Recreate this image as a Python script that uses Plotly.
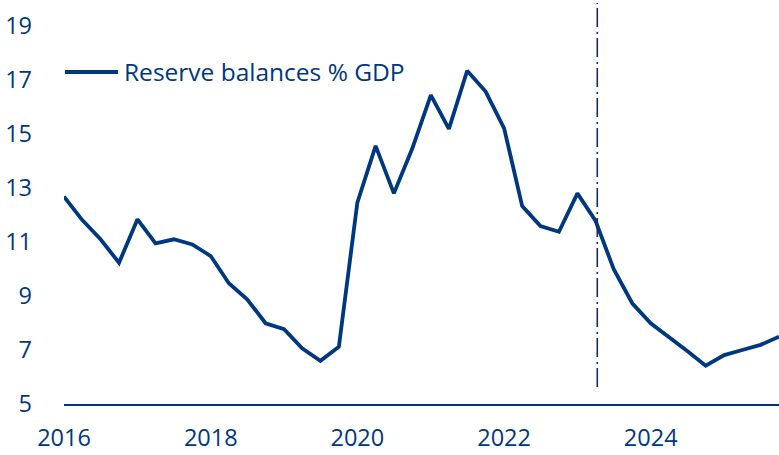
import pandas as pd
import plotly.graph_objects as go

# Quarterly observations, 2016 Q1 .. 2025 Q4
quarters = pd.date_range(start="2016-01-01", periods=40, freq="QS").strftime("%Y-%m-%d").tolist()
reserve_balances = [
    12.68, 11.81, 11.10, 10.23, 11.84, 10.95, 11.10, 10.91,
    10.48, 9.47, 8.88, 7.99, 7.77, 7.06, 6.60, 7.12,
    12.46, 14.56, 12.80, 14.47, 16.44, 15.19, 17.34, 16.57,
    15.21, 12.33, 11.59, 11.38, 12.80, 11.79, 9.99, 8.73,
    7.99, 7.49, 6.96, 6.42, 6.81, 7.00, 7.19, 7.49,
]
series_name = "Reserve balances % GDP"
forecast_start = "2023-04-10"
y_ticks = [5, 7, 9, 11, 13, 15, 17, 19]

BLUE = "#003781"
FONT = "Open Sans"

fig = go.Figure()
fig.add_trace(go.Scatter(
    x=quarters, y=reserve_balances, mode="lines", name=series_name,
    line=dict(color=BLUE, width=3.8), showlegend=False,
))

# forecast separator
fig.add_shape(type="line", xref="x", yref="y", x0=forecast_start, x1=forecast_start,
              y0=5.63, y1=19.85, line=dict(color="#1b2d5e", width=1.6, dash="19px,4px,2px,5px"))

# legend key
fig.add_shape(type="line", xref="paper", yref="paper", x0=(65-64)/715, x1=(118-64)/715,
              y0=(404-72)/401, y1=(404-72)/401, line=dict(color=BLUE, width=3.8))
fig.add_annotation(xref="paper", yref="paper", x=(122-64)/715, y=(404-71)/401,
                   text=series_name, showarrow=False, xanchor="left", yanchor="middle",
                   font=dict(family=FONT, size=24.5, color=BLUE))

fig.update_layout(
    width=779, height=455,
    margin=dict(l=64, r=0, t=3, b=51),
    paper_bgcolor="white", plot_bgcolor="white",
    font=dict(family=FONT, size=23.5, color=BLUE),
    hovermode=False,
    xaxis=dict(
        type="date", range=["2016-01-01", "2025-10-01"],
        tick0="2016-01-01", dtick="M24", tickformat="%Y",
        showgrid=False, zeroline=False, showline=True, linecolor=BLUE, linewidth=2,
        ticks="", ticklabelstandoff=12,
        tickfont=dict(family=FONT, size=23.5, color=BLUE),
    ),
    yaxis=dict(
        range=[5, 19.85], tickvals=y_ticks,
        showgrid=False, zeroline=False, showline=False, ticks="",
        ticklabelstandoff=31,
        tickfont=dict(family=FONT, size=23.5, color=BLUE),
    ),
)

fig.write_html("out.html", config={"displayModeBar": False},
               post_script="document.body.style.margin='0';")
